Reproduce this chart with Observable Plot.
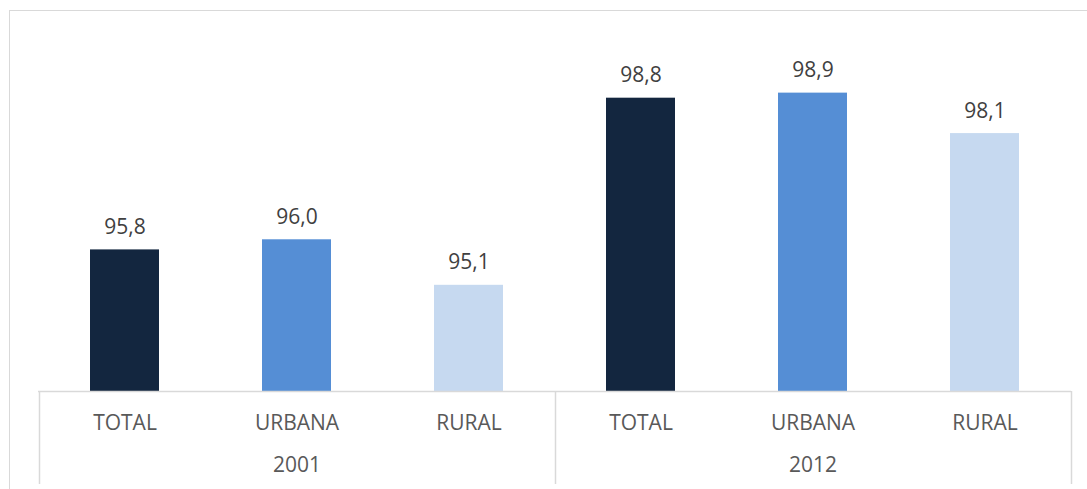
<!DOCTYPE html>
<html>
<head>
<meta charset="utf-8">
<script src="https://cdn.jsdelivr.net/npm/d3@7"></script>
<script src="https://cdn.jsdelivr.net/npm/@observablehq/plot@0.6"></script>
<style>
  html, body { margin: 0; padding: 0; background: #fff; }
  #wrap { position: relative; width: 1087px; height: 489px; overflow: hidden; }
  #border { position: absolute; left: 9px; top: 10px; width: 1200px; height: 600px;
            border-top: 1px solid #d9d9d9; border-left: 1px solid #d9d9d9; pointer-events: none; }
  svg { display: block; }
</style>
</head>
<body>
<div id="wrap"><div id="border"></div></div>
<script>
const years = ["2001", "2012"];
const categories = ["TOTAL", "URBANA", "RURAL"];
const values2001 = [95.8, 96.0, 95.1];
const values2012 = [98.8, 98.9, 98.1];
const colors = ["#13263f", "#558ed5", "#c6d9f0"];
const yDomain = [93, 100];

const seriesByYear = {"2001": values2001, "2012": values2012};
const rows = years.flatMap(year => categories.map((cat, i) => ({
  key: year + "|" + cat, year, cat, value: seriesByYear[year][i]
})));
const keys = rows.map(d => d.key);
const middleKeys = years.map(y => y + "|" + categories[Math.floor(categories.length / 2)]);

const textColor = "#595959";
const lineColor = "#d9d9d9";
const font = "'Open Sans', sans-serif";

function separators(index, scales, values, dimensions) {
  const x = scales.x;
  const bw = typeof x.bandwidth === "function" ? x.bandwidth() : scales.scales.x.bandwidth;
  const step = typeof x.step === "function" ? x.step() : scales.scales.x.step;
  const gap = (step - bw) / 2;
  const xs = [];
  years.forEach((y, i) => {
    const first = y + "|" + categories[0];
    xs.push(x(first) - gap);
    if (i === years.length - 1) xs.push(x(y + "|" + categories[categories.length - 1]) + bw + gap);
  });
  const g = d3.create("svg:g");
  const y0 = dimensions.height - dimensions.marginBottom;
  g.selectAll("line").data(xs).join("line")
    .attr("x1", d => Math.round(d) + 0.5).attr("x2", d => Math.round(d) + 0.5)
    .attr("y1", y0).attr("y2", dimensions.height - 5)
    .attr("stroke", lineColor).attr("stroke-width", 1.5);
  return g.node();
}

const chart = Plot.plot({
  width: 1087,
  height: 489,
  marginLeft: 38,
  marginRight: 16,
  marginTop: 37,
  marginBottom: 98,
  style: {fontFamily: font, background: "transparent"},
  x: {domain: keys, paddingInner: 0.6, paddingOuter: 0.3},
  y: {domain: yDomain, axis: null},
  color: {domain: categories, range: colors},
  marks: [
    Plot.barY(rows, {x: "key", y1: yDomain[0], y2: "value", fill: "cat"}),
    Plot.ruleY([yDomain[0]], {stroke: lineColor, strokeWidth: 1.5}),
    separators,
    Plot.text(rows, {
      x: "key", y: "value",
      text: d => d.value.toFixed(1).replace(".", ","),
      lineAnchor: "bottom", dy: -16,
      fontSize: 21, fill: "#404040"
    }),
    Plot.axisX({
      tickFormat: k => k.split("|")[1], tickSize: 0, tickPadding: 24,
      fontSize: 21, color: textColor, label: null
    }),
    Plot.axisX({
      ticks: middleKeys, tickFormat: k => k.split("|")[0], tickSize: 0, tickPadding: 66,
      fontSize: 21, color: textColor, label: null
    })
  ]
});
document.getElementById("wrap").prepend(chart);
</script>
</body>
</html>
